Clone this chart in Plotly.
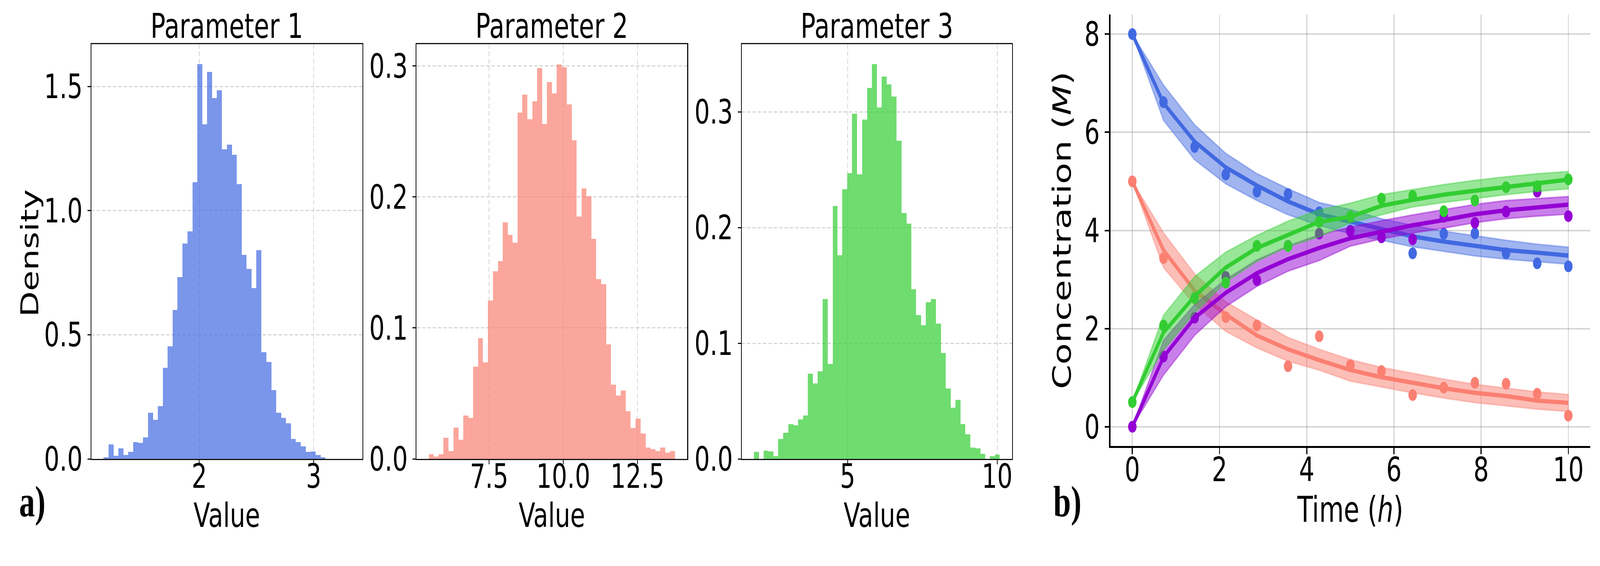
import plotly.graph_objects as go

# ---------- data ----------
p1_first_edge = 1.164
p1_bin_width = 0.0431
p1_density = [.007, .058, .012, .042, .016, .028, .067, .064, .087, .186, .157, .213, .366, .453, .600,
              .732, .868, .916, 1.115, 1.590, 1.347, 1.558, 1.453, 1.485, 1.246, 1.265, 1.225, 1.106,
              .822, .765, .688, .841, .430, .391, .277, .186, .166, .144, .080, .067, .051, .028, .030,
              .016, .007]

p2_first_edge = 5.468
p2_bin_width = 0.166
p2_density = [.0036, .0017, .0036, .0162, .0061, .0239, .0146, .0330, .0314, .0705, .0922, .0738, .1208,
              .1431, .1511, .1806, .1709, .1649, .2645, .2780, .2593, .2731, .2984, .2557, .2876, .2791,
              .3011, .2989, .2706, .2433, .1850, .2064, .2004, .1679, .1374, .1335, .0875, .0567, .0482,
              .0523, .0363, .0237, .0308, .0193, .0088, .0074, .0061, .0088, .0047, .0061]

p3_first_edge = 1.862
p3_bin_width = 0.1646
p3_density = [.0062, 0.0, .0072, .0065, .0022, .0171, .0225, .0302, .0290, .0340, .0374, .0736, .0652,
              .0758, .1384, .0820, .2186, .1762, .2332, .2470, .2984, .2460, .2934, .3209, .3414, .3040,
              .3305, .3237, .3134, .2750, .2127, .2036, .1466, .1244, .1157, .1356, .1384, .1169, .0917,
              .0608, .0443, .0511, .0302, .0212, .0097, .0090, .0044, 0.0, .0022, .0037]

time_h = [0, .714, 1.429, 2.143, 2.857, 3.571, 4.286, 5, 5.714, 6.429, 7.143, 7.857, 8.571, 9.286, 10]

blue_line = [8, 6.594, 5.81, 5.285, 4.915, 4.59, 4.33, 4.185, 4.025, 3.879, 3.773, 3.693, 3.6, 3.547, 3.489]
blue_up = [8, 6.964, 6.153, 5.57, 5.157, 4.85, 4.57, 4.424, 4.238, 4.105, 3.985, 3.892, 3.8, 3.72, 3.659]
blue_lo = [8, 6.244, 5.44, 4.95, 4.61, 4.32, 4.10, 3.932, 3.8, 3.667, 3.574, 3.481, 3.414, 3.361, 3.313]
blue_obs = [8, 6.614, 5.70, 5.14, 4.79, 4.74, 4.37, 4.0, 3.86, 3.534, 3.932, 3.94, 3.534, 3.329, 3.268]

salmon_line = [5, 3.6, 2.774, 2.29, 1.858, 1.579, 1.357, 1.156, 1.01, .890, .784, .691, .625, .532, .487]
salmon_up = [5, 3.955, 3.115, 2.546, 2.176, 1.82, 1.58, 1.368, 1.209, 1.09, .97, .864, .784, .71, .657]
salmon_lo = [5, 3.244, 2.49, 1.943, 1.607, 1.337, 1.152, .93, .811, .691, .585, .492, .426, .359, .311]
salmon_obs = [5, 3.434, 2.62, 2.233, 2.063, 1.232, 1.843, 1.257, 1.135, .646, .797, .896, .877, .673, .226]

purple_line = [0, 1.42, 2.22, 2.73, 3.13, 3.414, 3.642, 3.839, 3.972, 4.105, 4.211, 4.331, 4.41, 4.477, 4.525]
purple_up = [0, 1.76, 2.49, 3.0, 3.40, 3.685, 3.91, 4.065, 4.198, 4.317, 4.424, 4.53, 4.61, 4.65, 4.69]
purple_lo = [0, 1.052, 1.863, 2.447, 2.86, 3.17, 3.386, 3.68, 3.826, 3.946, 4.046, 4.158, 4.238, 4.291, 4.331]
purple_obs = [0, 1.43, 2.22, 3.053, 2.987, 3.685, 3.935, 3.985, 3.86, 3.818, 4.278, 4.153, 4.384, 4.79, 4.291]

green_line = [.5, 1.92, 2.66, 3.244, 3.642, 3.91, 4.175, 4.278, 4.503, 4.623, 4.729, 4.809, 4.888, 4.968, 5.035]
green_up = [.5, 2.27, 3.06, 3.557, 3.898, 4.19, 4.417, 4.556, 4.729, 4.835, 4.934, 5.021, 5.093, 5.154, 5.2]
green_lo = [.5, 1.565, 2.32, 2.945, 3.37, 3.67, 3.87, 4.158, 4.317, 4.477, 4.57, 4.65, 4.729, 4.795, 4.849]
green_obs = [.503, 2.063, 2.623, 2.936, 3.685, 3.68, 4.175, 4.286, 4.647, 4.703, 4.392, 4.61, 4.88, 4.902, 5.04]

# ---------- style / layout constants ----------
W, H = 5678, 1448
FONT = "DejaVu Sans"
TICK_SIZE = 86
TITLE_SIZE = 88
LABEL_SIZE = 86


def dom_x(a, b):
    return [a / W, b / W]


def dom_y(top, bottom):
    return [1 - bottom / H, 1 - top / H]


fig = go.Figure()


def add_hist(first, width, dens, color, ax):
    centers = [first + width * (i + 0.5) for i in range(len(dens))]
    fig.add_trace(go.Bar(x=centers, y=dens, width=width, marker=dict(color=color, line=dict(width=0)),
                         xaxis="x" + ax, yaxis="y" + ax, showlegend=False))


add_hist(p1_first_edge, p1_bin_width, p1_density, "rgba(65,105,225,0.7)", "")
add_hist(p2_first_edge, p2_bin_width, p2_density, "rgba(250,128,114,0.7)", "2")
add_hist(p3_first_edge, p3_bin_width, p3_density, "rgba(50,205,50,0.7)", "3")


def add_series(line, up, lo, obs, rgb):
    c = "rgb(%d,%d,%d)" % rgb
    fig.add_trace(go.Scatter(x=time_h + time_h[::-1], y=up + lo[::-1], mode="lines", fill="toself",
                             fillcolor="rgba(%d,%d,%d,0.5)" % rgb,
                             line=dict(color="rgba(%d,%d,%d,0.4)" % rgb, width=4),
                             xaxis="x4", yaxis="y4", showlegend=False))
    fig.add_trace(go.Scatter(x=time_h, y=line, mode="lines", line=dict(color=c, width=11),
                             xaxis="x4", yaxis="y4", showlegend=False))
    fig.add_trace(go.Scatter(x=time_h, y=obs, mode="markers", marker=dict(color=c, size=30, line=dict(width=0)),
                             xaxis="x4", yaxis="y4", showlegend=False))


add_series(blue_line, blue_up, blue_lo, blue_obs, (65, 105, 225))
add_series(salmon_line, salmon_up, salmon_lo, salmon_obs, (250, 128, 114))
add_series(purple_line, purple_up, purple_lo, purple_obs, (148, 0, 211))
add_series(green_line, green_up, green_lo, green_obs, (50, 205, 50))


def hist_axis(anchor, domain, rng, ticks, labels, title=None, standoff=14, label_shift=0):
    ax = dict(anchor=anchor, domain=domain, range=rng, tickmode="array", tickvals=ticks, ticktext=labels,
              showline=True, mirror=True, linecolor="#111111", linewidth=2.5,
              ticks="outside", ticklen=11, tickwidth=2.5, tickcolor="#111111", ticklabelstandoff=label_shift,
              tickfont=dict(size=TICK_SIZE, family=FONT, color="black"),
              showgrid=True, gridcolor="rgba(190,190,190,0.65)", gridwidth=2.5, griddash="12px,7px",
              zeroline=False, automargin=False)
    if title:
        ax["title"] = dict(text=title, standoff=standoff, font=dict(size=LABEL_SIZE, family=FONT, color="black"))
    return ax


layout = dict(
    width=W, height=H, margin=dict(l=0, r=0, t=0, b=0, pad=0),
    paper_bgcolor="white", plot_bgcolor="white", bargap=0, barmode="overlay", showlegend=False,
    font=dict(family=FONT, color="black"),
    xaxis=hist_axis("y", dom_x(324, 1286), [1.056, 3.426], [2, 3], ["2", "3"], "Value", label_shift=-43),
    yaxis=hist_axis("x", dom_y(113, 1174), [0, 1.67], [0, .5, 1, 1.5], ["0.0", "0.5", "1.0", "1.5"]),
    xaxis2=hist_axis("y2", dom_x(1478, 2439), [5.05, 14.18], [7.5, 10, 12.5], ["7.5", "10.0", "12.5"], "Value", label_shift=-43),
    yaxis2=hist_axis("x2", dom_y(113, 1174), [0, 0.3166], [0, .1, .2, .3], ["0.0", "0.1", "0.2", "0.3"]),
    xaxis3=hist_axis("y3", dom_x(2632, 3592), [1.456, 10.503], [5, 10], ["5", "10"], "Value", label_shift=-43),
    yaxis3=hist_axis("x3", dom_y(113, 1174), [0, 0.3586], [0, .1, .2, .3], ["0.0", "0.1", "0.2", "0.3"]),
    xaxis4=dict(anchor="y4", domain=dom_x(3941, 5643), range=[-0.5, 10.5], tickmode="array", tickvals=[0, 2, 4, 6, 8, 10],
                showline=True, mirror=False, linecolor="black", linewidth=4.5,
                ticks="outside", ticklen=16, tickwidth=4, tickcolor="black", ticklabelstandoff=-34,
                tickfont=dict(size=TICK_SIZE, family=FONT, color="black"),
                showgrid=True, gridcolor="rgba(128,128,128,0.32)", gridwidth=4, zeroline=False, automargin=False,
                title=dict(text="Time (<i>h</i>)", standoff=24, font=dict(size=90, family=FONT, color="black"))),
    yaxis4=dict(anchor="x4", domain=dom_y(37, 1141), range=[-0.392, 8.40], tickmode="array", tickvals=[0, 2, 4, 6, 8],
                showline=True, mirror=False, linecolor="black", linewidth=4.5,
                ticks="outside", ticklen=16, tickwidth=4, tickcolor="black",
                tickfont=dict(size=TICK_SIZE, family=FONT, color="black"),
                showgrid=True, gridcolor="rgba(128,128,128,0.32)", gridwidth=4, zeroline=False, automargin=False,
                title=dict(text="Concentration (<i>M</i>)", standoff=20, font=dict(size=90, family=FONT, color="black"))),
)

annotations = []
for cx, txt in [(805, "Parameter 1"), (1958, "Parameter 2"), (3112, "Parameter 3")]:
    annotations.append(dict(text=txt, x=cx / W, y=1 - 108 / H, xref="paper", yref="paper", xanchor="center",
                            yanchor="bottom", yshift=-12, showarrow=False,
                            font=dict(size=TITLE_SIZE, family=FONT, color="black")))
# "Density" sits tight against the tick labels, closer than an axis title's standoff allows.
annotations.append(dict(text="Density", x=106 / W, y=1 - 648 / H, xref="paper", yref="paper", xanchor="center",
                        yanchor="middle", textangle=-90, showarrow=False,
                        font=dict(size=LABEL_SIZE, family=FONT, color="black")))
for lx, txt in [(66, "a)"), (3736, "b)")]:
    annotations.append(dict(text="<b>%s</b>" % txt, x=lx / W, y=1 - 1347 / H, xref="paper", yref="paper", xanchor="left",
                            yanchor="bottom", showarrow=False,
                            font=dict(size=112, family="Liberation Serif", color="black")))
layout["annotations"] = annotations
fig.update_layout(**layout)

# The page keeps the 5678x1448 layout. If the real window is narrower, the plot is
# squeezed horizontally to fit, so no panel falls off the right edge.
fit_script = """
document.documentElement.style.overflow='hidden';
document.body.style.margin='0';
document.body.style.overflow='hidden';
var gd=document.getElementById('{plot_id}');
var s=Math.min(1,window.innerWidth/5678);
gd.style.transformOrigin='0 0';
gd.style.transform='scaleX('+s+')';
"""
fig.write_html("out.html", config=dict(displayModeBar=False), post_script=fit_script)
